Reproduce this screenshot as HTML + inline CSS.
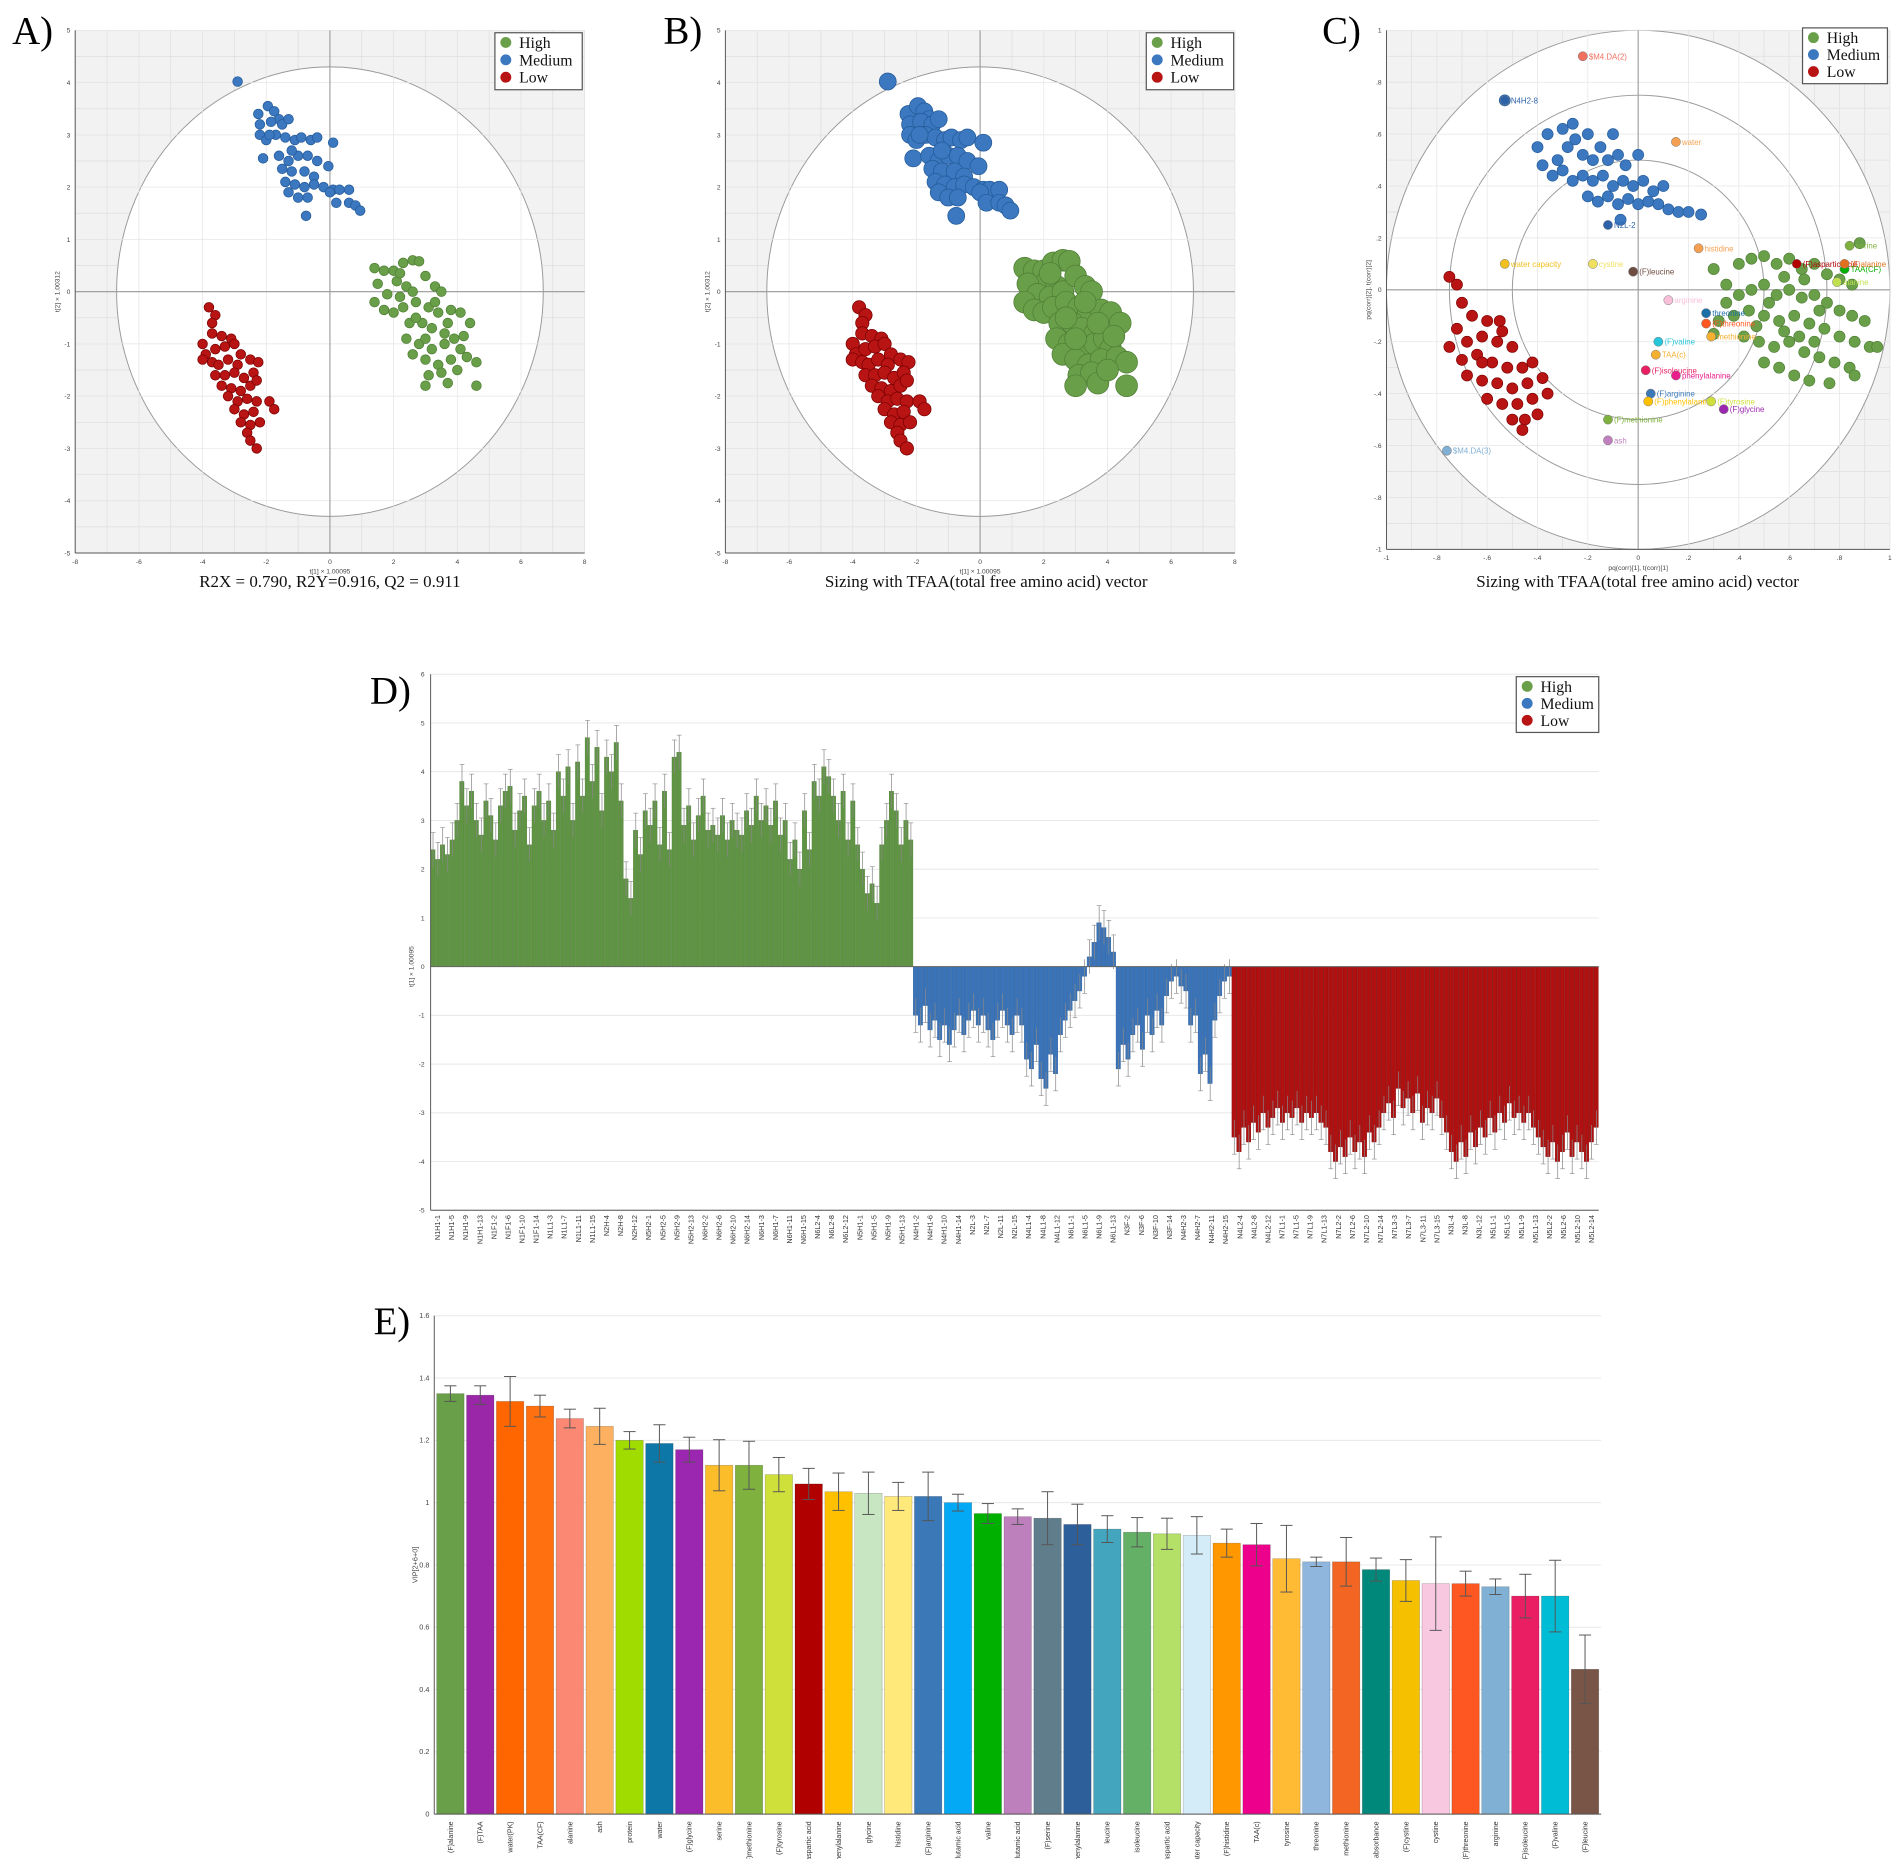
<!DOCTYPE html>
<html><head><meta charset="utf-8">
<style>
html,body{margin:0;padding:0;background:#fff;}
svg{display:block;}
</style></head>
<body>
<svg id="fig" xmlns="http://www.w3.org/2000/svg" width="1902" height="1859" viewBox="0 0 1568 1533" preserveAspectRatio="none"></svg>
<script>
// ---------- DATA ----------
const groupNames = ["High","Medium","Low"];
const scoreHigh = [[1.4,0.45],[1.7,0.4],[2,0.4],[2.3,0.55],[2.6,0.6],[2.8,0.58],[2.1,0.2],[2.4,0.1],[1.5,0.15],[1.8,-0.05],[2.2,-0.1],[2.6,0],[3,0.3],[3.3,0.1],[3.5,0],[1.4,-0.2],[1.7,-0.35],[2,-0.4],[2.3,-0.3],[2.7,-0.2],[3.1,-0.3],[3.4,-0.4],[3.8,-0.35],[4.1,-0.4],[4.4,-0.6],[2.5,-0.6],[2.9,-0.6],[3.2,-0.7],[3.6,-0.8],[2.4,-0.9],[2.8,-1],[3.2,-1.1],[3.6,-1],[3.9,-0.9],[4.1,-1.1],[2.6,-1.2],[3,-1.3],[3.4,-1.4],[3.8,-1.3],[4.3,-1.25],[4.6,-1.35],[3.1,-1.6],[3.5,-1.55],[3.7,-1.75],[4.6,-1.8],[3,-1.8],[2.7,-0.5],[3.3,-0.2],[3.7,-0.6],[4,-1.5],[2.2,0.35],[3.0,-0.9],[4.2,-0.85]];
const scoreMedium = [[-2.9,4.02],[-2.25,3.4],[-1.95,3.55],[-1.75,3.45],[-1.6,3.3],[-2.2,3.2],[-1.85,3.25],[-1.5,3.2],[-1.3,3.3],[-2.2,3],[-2,2.9],[-1.7,3],[-1.4,2.95],[-1.1,2.9],[-0.9,2.95],[-0.6,2.9],[-0.4,2.95],[-2.1,2.55],[-1.6,2.6],[-1.3,2.5],[-1,2.6],[-0.7,2.6],[-0.4,2.5],[-1.5,2.35],[-1.2,2.3],[-0.8,2.3],[-0.5,2.2],[-0.05,2.4],[-1.4,2.1],[-1.1,2.05],[-0.8,2],[-0.5,2.05],[-0.2,2],[0.1,1.95],[0.3,1.95],[0.6,1.95],[-1.3,1.9],[-1,1.8],[-0.7,1.8],[0,1.9],[0.2,1.7],[0.6,1.7],[0.8,1.65],[0.95,1.55],[-0.75,1.45],[0.1,2.85],[-1.9,3.0],[-1.2,2.7]];
const scoreLow = [[-3.8,-0.3],[-3.6,-0.45],[-3.7,-0.6],[-4,-1],[-3.7,-0.8],[-3.4,-0.85],[-3.1,-0.9],[-3.9,-1.2],[-3.6,-1.1],[-3.3,-1.05],[-3,-1],[-2.8,-1.2],[-4,-1.3],[-3.7,-1.35],[-3.5,-1.4],[-3.2,-1.3],[-2.9,-1.4],[-2.5,-1.3],[-2.25,-1.35],[-3.6,-1.6],[-3.3,-1.6],[-3,-1.55],[-2.7,-1.65],[-2.4,-1.55],[-3.4,-1.8],[-3.1,-1.85],[-2.8,-1.9],[-2.5,-1.8],[-2.3,-1.7],[-3.2,-2],[-2.9,-2.1],[-2.6,-2.05],[-2.3,-2.1],[-1.9,-2.1],[-3,-2.25],[-2.7,-2.35],[-2.4,-2.3],[-1.75,-2.25],[-2.8,-2.5],[-2.5,-2.55],[-2.2,-2.5],[-2.6,-2.7],[-2.5,-2.85],[-2.3,-3]];
const tfaaSize = [9, 7, 5.5];

const loadHigh = [[0.3,0.08],[0.35,0.02],[0.4,0.1],[0.45,0.12],[0.5,0.13],[0.55,0.1],[0.6,0.12],[0.65,0.08],[0.7,0.1],[0.75,0.06],[0.8,0.04],[0.85,0.02],[0.4,-0.02],[0.45,0.0],[0.5,0.02],[0.55,-0.02],[0.6,0.0],[0.65,-0.03],[0.7,-0.02],[0.75,-0.05],[0.8,-0.08],[0.85,-0.1],[0.9,-0.12],[0.32,-0.12],[0.38,-0.1],[0.44,-0.08],[0.5,-0.1],[0.56,-0.12],[0.62,-0.1],[0.68,-0.13],[0.74,-0.15],[0.8,-0.18],[0.86,-0.2],[0.92,-0.22],[0.42,-0.18],[0.48,-0.2],[0.54,-0.22],[0.6,-0.2],[0.66,-0.24],[0.72,-0.26],[0.78,-0.28],[0.84,-0.3],[0.5,-0.28],[0.56,-0.3],[0.62,-0.33],[0.68,-0.35],[0.76,-0.36],[0.86,-0.33],[0.95,-0.22],[0.88,0.18],[0.58,0.05],[0.66,0.04],[0.72,-0.08],[0.52,-0.05],[0.47,-0.14],[0.58,-0.16],[0.64,-0.18],[0.7,-0.2],[0.35,-0.05],[0.3,-0.17]];
const loadMedium = [[-0.4,0.55],[-0.36,0.6],[-0.32,0.5],[-0.3,0.62],[-0.28,0.55],[-0.25,0.58],[-0.22,0.52],[-0.2,0.6],[-0.18,0.5],[-0.15,0.55],[-0.12,0.5],[-0.08,0.52],[-0.05,0.48],[0.0,0.52],[-0.38,0.48],[-0.34,0.44],[-0.3,0.46],[-0.26,0.42],[-0.22,0.44],[-0.18,0.42],[-0.14,0.44],[-0.1,0.4],[-0.06,0.42],[-0.02,0.4],[0.02,0.42],[0.06,0.38],[0.1,0.4],[-0.2,0.36],[-0.16,0.34],[-0.12,0.36],[-0.08,0.33],[-0.04,0.35],[0.0,0.33],[0.04,0.34],[0.08,0.33],[0.12,0.31],[0.16,0.3],[0.2,0.3],[0.25,0.29],[-0.07,0.27],[-0.53,0.73],[-0.26,0.64],[-0.1,0.6]];
const loadLow = [[-0.75,0.05],[-0.72,0.02],[-0.7,-0.05],[-0.66,-0.1],[-0.6,-0.12],[-0.55,-0.12],[-0.72,-0.15],[-0.68,-0.2],[-0.62,-0.18],[-0.56,-0.2],[-0.5,-0.22],[-0.75,-0.22],[-0.7,-0.27],[-0.64,-0.25],[-0.58,-0.28],[-0.52,-0.3],[-0.46,-0.3],[-0.42,-0.28],[-0.68,-0.33],[-0.62,-0.35],[-0.56,-0.36],[-0.5,-0.38],[-0.44,-0.36],[-0.38,-0.34],[-0.6,-0.42],[-0.54,-0.44],[-0.48,-0.44],[-0.42,-0.42],[-0.36,-0.4],[-0.5,-0.5],[-0.45,-0.5],[-0.46,-0.54],[-0.4,-0.48],[-0.62,-0.28],[-0.54,-0.16]];
const varLabels = ["$M4.DA(2)","water","water capacity","cystine","(F)leucine","arginine","(F)threonine","methionine","TAA(c)","(F)valine","(F)isoleucine","phenylalanine","(F)arginine","(F)phenylalanine","(F)tyrosine","(F)glycine","(F)methionine","ash","$M4.DA(3)","(F)aspartic acid","TAA(CF)","alanine","serine","threonine","histidine","(F)alanine","N4H2-8","N2L-2"];
const varX = [-0.22,0.15,-0.53,-0.18,-0.02,0.12,0.27,0.29,0.07,0.08,0.03,0.15,0.05,0.04,0.29,0.34,-0.12,-0.12,-0.76,0.63,0.82,0.79,0.84,0.27,0.24,0.82,-0.53,-0.12];
const varY = [0.9,0.57,0.1,0.1,0.07,-0.04,-0.13,-0.18,-0.25,-0.2,-0.31,-0.33,-0.4,-0.43,-0.43,-0.46,-0.5,-0.58,-0.62,0.1,0.08,0.03,0.17,-0.09,0.16,0.1,0.73,0.25];
const varColors = ["#f07060","#f5a050","#f0c020","#f0e060","#6d4c41","#f8c0d8","#ff5722","#f5b030","#f5b030","#26c6da","#e91e63","#e91e8c","#3a78b8","#ffc000","#d0e03a","#9b27b0","#7fb13f","#c080c0","#80b0d4","#b00000","#00b000","#c0e050","#7fb13f","#1a6fa8","#f5a050","#e07020","#2d62a8","#2d62a8"];

const dHigh = [2.4,2.2,2.5,2.3,2.6,3.0,3.8,3.3,3.6,3.0,2.7,3.4,3.1,2.6,3.3,3.6,3.7,2.8,3.2,3.5,2.5,3.3,3.6,3.0,3.4,2.8,4.0,3.5,4.1,3.0,4.2,3.5,4.7,3.8,4.5,3.2,4.3,4.0,4.6,3.4,1.8,1.4,2.8,2.3,3.2,2.9,3.4,2.5,3.6,2.4,4.3,4.4,2.9,3.3,2.6,3.1,3.5,2.8,2.9,2.7,3.1,2.6,3.0,2.8,2.7,3.2,2.9,3.5,3.0,3.3,2.9,3.4,2.7,3.0,2.2,2.6,2.0,3.2,2.4,3.8,3.5,4.1,3.9,3.5,3.0,3.6,2.6,3.4,2.5,2.0,1.5,1.7,1.3,2.5,3.0,3.6,3.2,2.5,3.0,2.6];
const dMedium = [-1.0,-1.2,-0.8,-1.3,-1.1,-1.5,-1.2,-1.6,-1.3,-1.0,-1.4,-1.1,-0.9,-1.2,-1.0,-1.3,-1.5,-1.1,-0.9,-1.2,-1.4,-1.0,-1.2,-1.9,-2.1,-1.6,-2.3,-2.5,-1.8,-2.2,-1.4,-1.1,-0.9,-0.7,-0.5,-0.2,0.2,0.5,0.9,0.8,0.6,0.3,-2.1,-1.6,-1.9,-1.4,-1.2,-1.7,-1.0,-1.4,-0.9,-1.2,-0.6,-0.3,-0.2,-0.4,-0.5,-1.2,-1.0,-2.2,-1.8,-2.4,-1.1,-0.6,-0.3,-0.2];
const dLow = [-3.5,-3.8,-3.3,-3.6,-3.2,-3.4,-3.0,-3.3,-3.1,-2.9,-3.2,-3.0,-3.1,-2.9,-3.2,-3.0,-3.1,-3.0,-3.2,-3.3,-3.8,-4.0,-3.7,-3.9,-3.5,-3.8,-3.6,-3.9,-3.4,-3.6,-3.3,-3.0,-2.8,-3.1,-2.5,-2.9,-2.7,-3.0,-2.6,-3.2,-2.9,-3.0,-2.7,-3.1,-3.4,-3.8,-4.0,-3.6,-3.9,-3.4,-3.7,-3.3,-3.5,-3.1,-3.4,-3.0,-3.2,-2.8,-3.1,-3.0,-3.2,-3.0,-3.3,-3.5,-3.7,-3.9,-3.6,-4.0,-3.8,-3.4,-3.9,-3.6,-3.8,-4.0,-3.6,-3.3];
const dTickLabels = ["N1H1-1","N1H1-5","N1H1-9","N1H1-13","N1F1-2","N1F1-6","N1F1-10","N1F1-14","N1L1-3","N1L1-7","N1L1-11","N1L1-15","N2H-4","N2H-8","N2H-12","N5H2-1","N5H2-5","N5H2-9","N5H2-13","N6H2-2","N6H2-6","N6H2-10","N6H2-14","N6H1-3","N6H1-7","N6H1-11","N6H1-15","N6L2-4","N6L2-8","N6L2-12","N5H1-1","N5H1-5","N5H1-9","N5H1-13","N4H1-2","N4H1-6","N4H1-10","N4H1-14","N2L-3","N2L-7","N2L-11","N2L-15","N4L1-4","N4L1-8","N4L1-12","N6L1-1","N6L1-5","N6L1-9","N6L1-13","N3F-2","N3F-6","N3F-10","N3F-14","N4H2-3","N4H2-7","N4H2-11","N4H2-15","N4L2-4","N4L2-8","N4L2-12","N7L1-1","N7L1-5","N7L1-9","N7L1-13","N7L2-2","N7L2-6","N7L2-10","N7L2-14","N7L3-3","N7L3-7","N7L3-11","N7L3-15","N3L-4","N3L-8","N3L-12","N5L1-1","N5L1-5","N5L1-9","N5L1-13","N5L2-2","N5L2-6","N5L2-10","N5L2-14"];

const vipNames = ["(F)alanine","(F)TAA","water(PK)","TAA(CF)","alanine","ash","protein","water","(F)glycine","serine","(F)methionine","(F)tyrosine","(F)aspartic acid","(F)phenylalanine","glycine","histidine","(F)arginine","(F)glutamic acid","valine","glutamic acid","(F)serine","phenylalanine","leucine","isoleucine","aspartic acid","water capacity","(F)histidine","TAA(c)","tyrosine","threonine","methionine","absorbance","(F)cystine","cystine","(F)threonine","arginine","(F)isoleucine","(F)valine","(F)leucine"];
const vipValues = [1.35,1.345,1.325,1.31,1.27,1.245,1.2,1.19,1.17,1.12,1.12,1.09,1.06,1.035,1.03,1.02,1.02,1.0,0.965,0.955,0.95,0.93,0.915,0.905,0.9,0.895,0.87,0.865,0.82,0.81,0.81,0.785,0.75,0.74,0.74,0.73,0.70,0.70,0.465];
const vipErrors = [0.025,0.03,0.08,0.035,0.03,0.058,0.028,0.06,0.04,0.082,0.077,0.055,0.05,0.06,0.068,0.045,0.078,0.027,0.032,0.025,0.085,0.065,0.043,0.047,0.05,0.06,0.045,0.068,0.107,0.015,0.078,0.037,0.067,0.15,0.04,0.025,0.07,0.115,0.11];
const vipColors = ["#6a9f4a","#9a27a8","#ff6600","#ff7010","#fa8872","#fdb060","#a0dc00","#0d77a8","#9b27b0","#fbbd2a","#7fb13f","#d0e03a","#b00000","#ffc000","#c8e6c2","#ffe97a","#3a78b8","#03a9f4","#00b000","#bd80bd","#607d8b","#2d5f9b","#44a6be","#63b066","#b4e067","#d4ecf7","#ff9800","#ec008c","#ffbb33","#8fb7de","#f26522","#00897b","#f5c000","#f8c8e0","#ff5722","#80b0d4","#e91e63","#00bcd4","#795548"];

// ---------- HELPERS ----------
const NS = "http://www.w3.org/2000/svg";
const svg = document.getElementById("fig");
function mk(tag, attrs, parent, txt){
  const e = document.createElementNS(NS, tag);
  for (const k in attrs) e.setAttribute(k, attrs[k]);
  if (txt !== undefined) e.textContent = txt;
  (parent || svg).appendChild(e);
  return e;
}
const gColors = ["#6a9f4a","#3b78bf","#b81414"];
const gStroke = ["#4e7d34","#245a99","#7a0000"];
const dColors = ["#5f9444","#3a73b8","#b01010"];
const SANS = "Liberation Sans, sans-serif";
const SERIF = "Liberation Serif, serif";

function panelLabel(x,y,t){
  const e = mk("text",{x:x,y:y,"font-family":SERIF,"font-size":32,fill:"#000"},svg,t);
  
  
}
function legend(x,y,w,h,fs){
  const g = mk("g",{});
  
  
  mk("rect",{x:x,y:y,width:w,height:h,fill:"#fff",stroke:"#555","stroke-width":1},g);
  for (let i=0;i<3;i++){
    const eg = mk("g",{},g);
    
    
    const cy = y+8+i*(h-4)/3;
    mk("circle",{cx:x+9,cy:cy,r:4.5,fill:gColors[i]},eg);
    mk("text",{x:x+20,y:cy+4.5,"font-family":SERIF,"font-size":fs,fill:"#111"},eg,groupNames[i]);
  }
}

function scatterPanel(opt){
  const {L,R,T,B,xmin,xmax,ymin,ymax,xstep,ystep,name} = opt;
  const g = mk("g",{});
  
  
  const sx = v => L + (v-xmin)/(xmax-xmin)*(R-L);
  const sy = v => B - (v-ymin)/(ymax-ymin)*(B-T);
  mk("rect",{x:L,y:T,width:R-L,height:B-T,fill:"#f2f2f2"},g);
  for (let v=xmin; v<=xmax+1e-9; v+=xstep/2) mk("line",{x1:sx(v),x2:sx(v),y1:T,y2:B,stroke:"#dedede","stroke-width":0.6},g);
  for (let v=ymin; v<=ymax+1e-9; v+=ystep/2) mk("line",{x1:L,x2:R,y1:sy(v),y2:sy(v),stroke:"#dedede","stroke-width":0.6},g);
  opt.circles.forEach((c,i)=>{
    const el = mk("ellipse",{cx:sx(0),cy:sy(0),rx:sx(c[0])-sx(0),ry:sy(0)-sy(c[1]),fill:i===0?"#fff":"none",stroke:"#999","stroke-width":0.8},g);
    
    
  });
  for (let v=xmin; v<=xmax+1e-9; v+=xstep) mk("line",{x1:sx(v),x2:sx(v),y1:T,y2:B,stroke:"#e6e6e6","stroke-width":0.6},g);
  for (let v=ymin; v<=ymax+1e-9; v+=ystep) mk("line",{x1:L,x2:R,y1:sy(v),y2:sy(v),stroke:"#e6e6e6","stroke-width":0.6},g);
  mk("line",{x1:sx(0),x2:sx(0),y1:T,y2:B,stroke:"#999","stroke-width":0.9},g);
  mk("line",{x1:L,x2:R,y1:sy(0),y2:sy(0),stroke:"#999","stroke-width":0.9},g);
  mk("line",{x1:L,x2:L,y1:T,y2:B,stroke:"#555","stroke-width":0.8},g);
  mk("line",{x1:L,x2:R,y1:B,y2:B,stroke:"#555","stroke-width":0.8},g);
  for (let v=xmin; v<=xmax+1e-9; v+=xstep){
    const t = mk("text",{x:sx(v),y:B+9,"font-family":SANS,"font-size":5.5,fill:"#444","text-anchor":"middle"},g,opt.fmt(v));
    
    
  }
  for (let v=ymin; v<=ymax+1e-9; v+=ystep){
    const t = mk("text",{x:L-4,y:sy(v)+2,"font-family":SANS,"font-size":5.5,fill:"#444","text-anchor":"end"},g,opt.fmt(v));
    
    
  }
  const xt = mk("text",{x:(L+R)/2,y:B+17,"font-family":SANS,"font-size":5.5,fill:"#444","text-anchor":"middle"},g,opt.xtitle);
  
  
  const yt = mk("text",{x:0,y:0,"font-family":SANS,"font-size":5.5,fill:"#444","text-anchor":"middle",transform:`translate(${L-13},${(T+B)/2}) rotate(-90)`},g,opt.ytitle);
  
  
  return {g,sx,sy};
}

// ---------- PANEL A ----------
panelLabel(10,36,"A)");
const fmtInt = v => String(Math.round(v));
const A = scatterPanel({L:62,R:482,T:25,B:456,xmin:-8,xmax:8,ymin:-5,ymax:5,xstep:2,ystep:1,name:"score-plot-a",circles:[[6.7,4.3]],fmt:fmtInt,xtitle:"t[1] × 1.00095",ytitle:"t[2] × 1.00312"});
[scoreHigh,scoreMedium,scoreLow].forEach((pts,gi)=>{
  pts.forEach(p=>{
    const c = mk("circle",{cx:A.sx(p[0]),cy:A.sy(p[1]),r:4,fill:gColors[gi],stroke:gStroke[gi],"stroke-width":0.6},A.g);
    
    
  });
});
legend(408,27,72,47,13);
const capA = mk("text",{x:272,y:484,"font-family":SERIF,"font-size":14,"text-anchor":"middle",fill:"#111"},svg,"R2X = 0.790, R2Y=0.916, Q2 = 0.911");



// ---------- PANEL B ----------
panelLabel(547,36,"B)");
const Bp = scatterPanel({L:598,R:1018,T:25,B:456,xmin:-8,xmax:8,ymin:-5,ymax:5,xstep:2,ystep:1,name:"score-plot-b",circles:[[6.7,4.3]],fmt:fmtInt,xtitle:"t[1] × 1.00095",ytitle:"t[2] × 1.00312"});
[scoreHigh,scoreMedium,scoreLow].forEach((pts,gi)=>{
  pts.forEach(p=>{
    const c = mk("circle",{cx:Bp.sx(p[0]),cy:Bp.sy(p[1]),r:tfaaSize[gi],fill:gColors[gi],stroke:gStroke[gi],"stroke-width":0.6},Bp.g);
    
    
  });
});
legend(945,27,72,47,13);
const capB = mk("text",{x:813,y:484,"font-family":SERIF,"font-size":14,"text-anchor":"middle",fill:"#111"},svg,"Sizing with TFAA(total free amino acid) vector");



// ---------- PANEL C ----------
panelLabel(1090,36,"C)");
const fmtDec = v => { const r=Math.round(v*10)/10; return r===0?"0":(r===1?"1":(r===-1?"-1":r.toFixed(1).replace(/^(-?)0\./,"$1."))); };
const C = scatterPanel({L:1143,R:1558,T:25,B:453,xmin:-1,xmax:1,ymin:-1,ymax:1,xstep:0.2,ystep:0.2,name:"biplot-c",circles:[[1,1],[0.75,0.75],[0.5,0.5]],fmt:fmtDec,xtitle:"pq(corr)[1], t(corr)[1]",ytitle:"pq(corr)[2], t(corr)[2]"});
[loadHigh,loadMedium,loadLow].forEach((pts,gi)=>{
  pts.forEach(p=>{
    const c = mk("circle",{cx:C.sx(p[0]),cy:C.sy(p[1]),r:4.6,fill:gColors[gi],stroke:gStroke[gi],"stroke-width":0.5},C.g);
    
    
  });
});
varLabels.forEach((lab,i)=>{
  const c = mk("circle",{cx:C.sx(varX[i]),cy:C.sy(varY[i]),r:3.8,fill:varColors[i],stroke:"#777","stroke-width":0.4},C.g);
  
  
  const t = mk("text",{x:C.sx(varX[i])+5,y:C.sy(varY[i])+2.5,"font-family":SANS,"font-size":6.5,fill:varColors[i]},C.g,lab);
  
  
});
legend(1486,23,70,46,13);
const capC = mk("text",{x:1350,y:484,"font-family":SERIF,"font-size":14,"text-anchor":"middle",fill:"#111"},svg,"Sizing with TFAA(total free amino acid) vector");



// ---------- PANEL D ----------
panelLabel(305,580,"D)");
(function(){
  const L=355,R=1318,T=556,B=998,ymin=-5,ymax=6;
  const g = mk("g",{});
  
  
  const sy = v => B - (v-ymin)/(ymax-ymin)*(B-T);
  for (let v=ymin; v<=ymax; v++){
    mk("line",{x1:L,x2:R,y1:sy(v),y2:sy(v),stroke:"#e4e4e4","stroke-width":0.7},g);
    const t = mk("text",{x:L-5,y:sy(v)+2,"font-family":SANS,"font-size":5.5,fill:"#444","text-anchor":"end"},g,String(v));
    
    
  }
  const all = [];
  dHigh.forEach(v=>all.push([v,0]));
  dMedium.forEach(v=>all.push([v,1]));
  dLow.forEach(v=>all.push([v,2]));
  const bw = (R-L)/all.length;
  const errLen = 0.35;
  all.forEach((d,i)=>{
    const v=d[0], gi=d[1];
    const x = L+i*bw;
    const y0 = sy(0), y1 = sy(v);
    const r = mk("rect",{x:x,y:Math.min(y0,y1),width:bw*0.92,height:Math.abs(y1-y0),fill:dColors[gi],stroke:gStroke[gi],"stroke-width":0.3},g);
    
    
    const ye = sy(v + (v>=0?errLen:-errLen));
    mk("line",{x1:x+bw/2,x2:x+bw/2,y1:sy(v>=0?v-errLen:v+errLen),y2:ye,stroke:"#888","stroke-width":0.6},g);
    mk("line",{x1:x,x2:x+bw,y1:ye,y2:ye,stroke:"#888","stroke-width":0.5},g);
  });
  mk("line",{x1:L,x2:R,y1:sy(0),y2:sy(0),stroke:"#666","stroke-width":0.8},g);
  mk("line",{x1:L,x2:L,y1:T,y2:B,stroke:"#555","stroke-width":0.8},g);
  mk("line",{x1:L,x2:R,y1:B,y2:B,stroke:"#555","stroke-width":0.8},g);
  const yt = mk("text",{x:0,y:0,"font-family":SANS,"font-size":5.5,fill:"#444","text-anchor":"middle",transform:`translate(${L-14},${sy(0)}) rotate(-90)`},g,"t[1] × 1.00095");
  
  
  const lw = (R-L)/dTickLabels.length;
  dTickLabels.forEach((lab,i)=>{
    const x = L+lw*(i+0.5);
    const t = mk("text",{x:0,y:0,"font-family":SANS,"font-size":6,fill:"#333","text-anchor":"end",transform:`translate(${x+2},${B+4}) rotate(-90)`},g,lab);
    
    
  });
})();
legend(1250,558,68,46,13);

// ---------- PANEL E ----------
panelLabel(308,1100,"E)");
(function(){
  const L=358,R=1320,T=1085,B=1496,ymin=0,ymax=1.6;
  const g = mk("g",{});
  
  
  const sy = v => B - (v-ymin)/(ymax-ymin)*(B-T);
  for (let k=0;k<=8;k++){
    const v = k*0.2;
    mk("line",{x1:L,x2:R,y1:sy(v),y2:sy(v),stroke:"#e8e8e8","stroke-width":0.8},g);
    const lab = k===0?"0":(k===5?"1":(Math.round(v*10)/10).toFixed(1).replace(/\.0$/,""));
    const t = mk("text",{x:L-4,y:sy(v)+2,"font-family":SANS,"font-size":6,fill:"#444","text-anchor":"end"},g,lab);
    
    
  }
  const n = vipNames.length;
  const step = (R-L-2)/n;
  vipValues.forEach((v,i)=>{
    const x = L+2+i*step;
    const w = step-2;
    const r = mk("rect",{x:x,y:sy(v),width:w,height:sy(0)-sy(v),fill:vipColors[i],stroke:"rgba(0,0,0,0.25)","stroke-width":0.5},g);
    
    
    const cx = x+w/2, e = vipErrors[i];
    mk("line",{x1:cx,x2:cx,y1:sy(v+e),y2:sy(v-e),stroke:"#555","stroke-width":0.8},g);
    mk("line",{x1:cx-5,x2:cx+5,y1:sy(v+e),y2:sy(v+e),stroke:"#555","stroke-width":0.8},g);
    mk("line",{x1:cx-5,x2:cx+5,y1:sy(v-e),y2:sy(v-e),stroke:"#555","stroke-width":0.8},g);
    const t = mk("text",{x:0,y:0,"font-family":SANS,"font-size":5.8,fill:"#333","text-anchor":"end",transform:`translate(${cx+2},${B+6}) rotate(-90)`},g,vipNames[i]);
    
    
  });
  mk("line",{x1:L,x2:L,y1:T,y2:B,stroke:"#555","stroke-width":0.8},g);
  mk("line",{x1:L,x2:R,y1:B,y2:B,stroke:"#555","stroke-width":0.8},g);
  const yt = mk("text",{x:0,y:0,"font-family":SANS,"font-size":6,fill:"#444","text-anchor":"middle",transform:`translate(${L-14},${sy(0.8)}) rotate(-90)`},g,"VIP[2+6+0]");
  
  
})();
</script>
</body></html>
